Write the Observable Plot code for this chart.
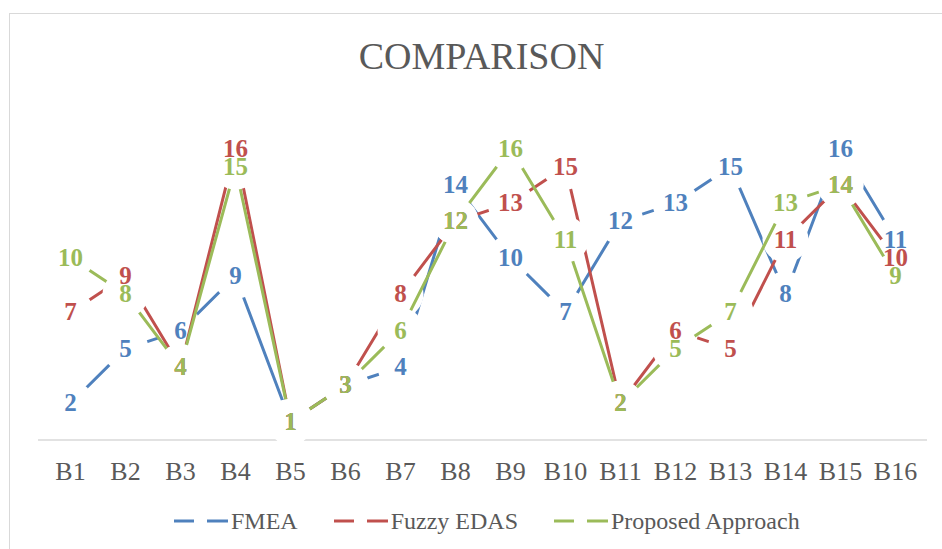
<!DOCTYPE html>
<html>
<head>
<meta charset="utf-8">
<script src="https://cdn.jsdelivr.net/npm/d3@7"></script>
<script src="https://cdn.jsdelivr.net/npm/@observablehq/plot@0.6"></script>
<style>
  html, body { margin: 0; padding: 0; background: #fff; }
  #wrap { position: relative; width: 942px; height: 549px; overflow: hidden; background: #fff; font-family: "Liberation Serif", "Times New Roman", serif; }
  #chart { position: absolute; left: 0; top: 0; }
  #border { position: absolute; left: 9px; top: 13px; width: 1000px; height: 600px; border-left: 1.5px solid #d9d9d9; border-top: 1.5px solid #d9d9d9; pointer-events: none; }
  #title { position: absolute; left: 9px; width: 945px; top: 37px; text-align: center; font-size: 38px; line-height: 38px; color: #595959; }
  #legend { position: absolute; left: 174px; top: 509px; display: flex; align-items: center; font-size: 24px; line-height: 24px; color: #595959; }
  .item { display: flex; align-items: center; margin-right: 36px; }
  .item svg { margin-right: 3px; }
  #chart svg text { font-family: "Liberation Serif", "Times New Roman", serif; }
</style>
</head>
<body>
<div id="wrap">
  <div id="chart"></div>
  <div id="border"></div>
  <div id="title">COMPARISON</div>
  <div id="legend"></div>
</div>
<script>
const categories = ["B1","B2","B3","B4","B5","B6","B7","B8","B9","B10","B11","B12","B13","B14","B15","B16"];
const fmea       = [2, 5, 6, 9, 1, 3, 4, 14, 10, 7, 12, 13, 15, 8, 16, 11];
const fuzzyEdas  = [7, 9, 4, 16, 1, 3, 8, 12, 13, 15, 2, 6, 5, 11, 14, 10];
const proposed   = [10, 8, 4, 15, 1, 3, 6, 12, 16, 11, 2, 5, 7, 13, 14, 9];
const seriesNames  = ["FMEA", "Fuzzy EDAS", "Proposed Approach"];
const seriesColors = ["#4F81BD", "#C0504D", "#9BBB59"];
const seriesValues = [fmea, fuzzyEdas, proposed];

const series = seriesNames.map((name, s) =>
  categories.map((c, i) => ({cat: c, value: seriesValues[s][i], series: name, color: seriesColors[s]}))
);

const marks = [Plot.ruleY([0], {stroke: "#d9d9d9", strokeWidth: 1.5})];
series.forEach((data, s) => {
  marks.push(Plot.line(data, {x: "cat", y: "value", stroke: seriesColors[s], strokeWidth: 3, strokeLinejoin: "round"}));
  marks.push(Plot.dot(data, {x: "cat", y: "value", r: 23, fill: "white", stroke: "none"}));
});
series.forEach((data, s) => {
  marks.push(Plot.text(data, {x: "cat", y: "value", text: d => String(d.value), fill: seriesColors[s],
    fontFamily: "Liberation Serif", fontSize: 25, fontWeight: "bold", textAnchor: "middle", lineAnchor: "middle"}));
});

const chart = Plot.plot({
  width: 942,
  height: 500,
  marginLeft: 38,
  marginRight: 15,
  marginTop: 111.6,
  marginBottom: 60.6,
  x: {type: "point", domain: categories, padding: 0.5, label: null, tickSize: 0, tickPadding: 22},
  y: {domain: [0, 18], axis: null},
  style: {fontFamily: "Liberation Serif", fontSize: "26px", color: "#595959", background: "transparent", overflow: "visible"},
  marks
});
document.getElementById("chart").appendChild(chart);

const legend = document.getElementById("legend");
seriesNames.forEach((name, s) => {
  const item = document.createElement("div");
  item.className = "item";
  item.innerHTML = `<svg width="54" height="24"><line x1="0" y1="12" x2="20" y2="12" stroke="${seriesColors[s]}" stroke-width="3"/><line x1="33" y1="12" x2="54" y2="12" stroke="${seriesColors[s]}" stroke-width="3"/></svg><span>${name}</span>`;
  legend.appendChild(item);
});
</script>
</body>
</html>
